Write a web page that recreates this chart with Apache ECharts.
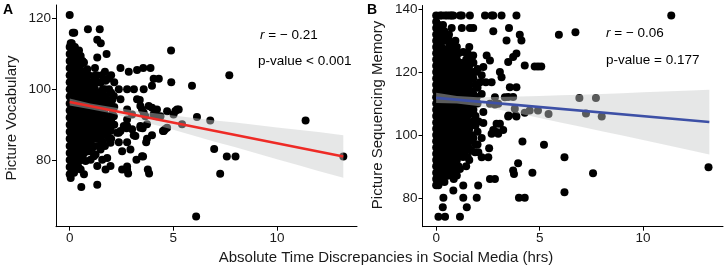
<!DOCTYPE html>
<html>
<head>
<meta charset="utf-8" />
<title>social media discrepancy scatter</title>
<script src="https://cdn.jsdelivr.net/npm/echarts@6/dist/echarts.min.js"></script>
<style>
  html, body { margin: 0; padding: 0; background: #fff; }
  #chart { width: 725px; height: 270px; }
</style>
</head>
<body>
<div id="chart"></div>
<script>
// tick labels
var xTicks = [0, 5, 10];
var yTicksA = [80, 100, 120];
var yTicksB = [80, 100, 120, 140];

// panel A: hours discrepancy vs picture vocabulary
var pointsA = [
  // sparse points
  [0,121],[0.15,116],[0.22,116],[0.88,117],[1.45,117],[1.33,114],[1.5,113],[1.78,110],[1.33,109],[4.89,111],[7.7,104],
  [0.53,109.4],[0.69,107.6],[0.85,105.7],[1.17,103.8],[1.49,101.9],[1.33,99.1],
  [2.45,106],[2.85,105],[3.25,105.5],[3.55,106],[3.9,106],[4.05,103],[4.3,103],[4.9,102],[5.9,101],
  [3.57,100],[3.97,101],[3.1,100],[2.77,100],[2.37,100],[1.73,102.4],[2.13,98.1],[2.45,97.2],[3.38,97],[3.25,97.2],
  [2.77,94.3],[3.01,92.9],[3.41,95.3],[3.57,93.4],[3.97,94.8],[4.2,92.4],[3.73,90.1],[3.41,89.1],[2.77,89.6],[2.45,88.2],
  [4.7,93.8],[5.01,92.9],[1.81,95.3],[1.49,93.4],[2.13,92.4],[1.65,90.5],[1.97,88.7],
  [5.18,94.3],[5.1,93.9],[5.26,94.3],[6.14,92.2],[6.78,91.2],[5.42,90.1],[11.38,91.2],[4.6,88.7],[4.54,88.2],[4.7,89.1],
  [4.38,92.4],[4.05,92.9],[4.21,94.3],[3.81,95.3],[3.49,94.3],[3.65,92.4],
  [1.97,90.5],[2.37,87.7],[2.61,89.6],[2.77,91.5],[3.01,88.7],[3.17,86.8],[3.41,89.6],
  [4.5,88.2],[3.97,87],[3.69,85],[3.09,87],[2.77,85],[2.37,85],[3.73,86],[3.52,89],[2.74,89],[1.97,88.2],[1.57,87.2],
  [2.53,82.5],[2.93,83],[3.22,80.1],[3.49,81.1],[3.54,81],[3.77,77.3],[3.83,76.2],[2.77,77.3],[2.53,77.3],[2.82,76.2],
  [2.77,78.2],[1.97,78.3],[1.81,80.6],[1.57,80.1],[1.33,78.3],[1.17,81.1],[1.01,80.1],[0.77,79.7],[0.53,77.3],[0.21,76.4],
  [0.05,74.9],[0.56,72.4],[1.33,73],[0.69,76],[1.73,77.3],[0.93,82.5],[1.09,83.4],[0.53,85.8],[0.21,83],[1.49,83],
  [1.25,81.6],[0.53,81.6],[0.13,79.2],[0.37,80.1],
  [1.01,87.2],[1.33,87.7],[1.49,85.8],[1.81,86.8],[1.97,84.9],[2.29,87.7],
  [6.97,83.1],[7.58,81],[8.0,81],[7.26,76.1],[13.2,81],[6.1,64],
  // dense block near zero
  [0,76],[0,78],[0,80],[0,82],[0,84],[0,86],[0,88],[0,90],[0,92],[0,94],[0,96],[0,98],[0,100],[0,102],[0,104],[0,106],[0,108],[0,110],[0,112],
  [0.1,77],[0.1,79],[0.1,81],[0.1,83],[0.1,85],[0.1,87],[0.1,89],[0.1,91],[0.1,93],[0.1,95],[0.1,97],[0.1,99],[0.1,101],[0.1,103],[0.1,105],[0.1,107],[0.1,109],[0.1,111],[0.1,113],
  [0.2,78],[0.2,80],[0.2,82],[0.2,84],[0.2,86],[0.2,88],[0.2,90],[0.2,92],[0.2,94],[0.2,96],[0.2,98],[0.2,100],[0.2,102],[0.2,104],[0.2,106],[0.2,108],[0.2,110],
  [0.3,79],[0.3,81],[0.3,84],[0.3,87],[0.3,89],[0.3,91],[0.3,93],[0.3,95],[0.3,97],[0.3,99],[0.3,101],[0.3,103],[0.3,105],[0.3,107],[0.3,111],
  [0.42,78],[0.42,82],[0.42,85],[0.42,88],[0.42,90],[0.42,93],[0.42,96],[0.42,98],[0.42,101],[0.42,104],[0.42,106],
  [0.55,80],[0.55,83],[0.55,89],[0.55,92],[0.55,95],[0.55,98],[0.55,101],[0.55,104],[0.55,107],
  [0.7,82],[0.7,85],[0.7,88],[0.7,91],[0.7,94],[0.7,97],[0.7,100],[0.7,103],
  [0.85,84],[0.85,87],[0.85,90],[0.85,93],[0.85,96],[0.85,99],[0.85,102],
  [1.0,85],[1.0,91],[1.0,94],[1.0,97],[1.0,100],
  [1.15,84],[1.15,89],[1.15,92],[1.15,95],[1.15,98],[1.15,101],
  [1.3,86],[1.3,90],[1.3,94],[1.3,97],[1.3,104],
  [1.45,88],[1.45,91],[1.45,95],[1.45,98],
  [1.6,85],[1.6,89],[1.6,93],[1.6,96],[1.6,100],
  [1.75,91],[1.75,98],[1.9,86],[1.9,95],[1.9,100],[2.05,93],[2.05,97],
  [0.05,113],[0.25,112],[0.35,109],[0.45,111],
  [0.48,80],[0.48,84],[0.48,87],[0.48,91],[0.48,94],[0.48,97],[0.48,100],[0.48,103],[0.48,108],
  [0.62,81],[0.62,86],[0.62,90],[0.62,93],[0.62,96],[0.62,99],[0.62,102],[0.62,105],[0.62,108],
  [0.78,83],[0.78,86],[0.78,89],[0.78,92],[0.78,95],[0.78,98],[0.78,101],[0.78,104],
  [0.92,86],[0.92,89],[0.92,92],[0.92,95],[0.92,98],[0.92,101],[0.92,104],
  [1.08,87],[1.08,90],[1.08,93],[1.08,96],[1.08,99],[1.08,102],
  [1.22,88],[1.22,91],[1.22,94],[1.22,97],[1.22,100],[1.22,103],[1.22,106],
  [1.38,84],[1.38,89],[1.38,92],[1.38,96],[1.38,102],
  [1.55,91],[1.55,94],[1.55,98],[1.55,104],
  [1.7,84],[1.7,88],[1.7,93],[1.7,96],[1.7,100],[1.7,105],
  [1.85,89],[1.85,92],[1.85,97],[1.85,103],
  [2.0,86],[2.0,91],[2.0,95],[2.0,99],[2.0,104],[2.15,90],[2.15,95],[2.15,102]
];
var fitXA = [0, 13.2];
var fitYA = [96.4, 81.0];
var bandXA = [0, 1, 2, 3, 4, 5, 6, 7, 8, 9, 10, 11, 12, 13.2];
var upperA = [97.4, 96.0, 95.0, 94.1, 93.3, 92.6, 91.9, 91.2, 90.6, 89.9, 89.2, 88.6, 87.9, 87.0];
var lowerA = [95.4, 94.4, 93.2, 91.7, 90.1, 88.6, 86.9, 85.2, 83.6, 81.9, 80.2, 78.6, 76.9, 75.0];

// panel B: hours discrepancy vs picture sequencing memory
var pointsB = [
  // ceiling row
  [0,138],[0.19,138],[0.27,138],[0.43,138],[0.54,138],[0.67,138],[0.75,138],[0.83,138],[1.15,138],[1.24,138],[1.63,138],
  [2.36,138],[2.68,138],[2.76,138],[3.16,138],[3.88,138],[11.36,138],
  [0.75,134],[1.24,134],[1.63,134],[1.79,134],[2.76,133],[3.52,134],[4.04,131.9],[3.4,130.1],[4.12,130.1],[5.93,131.9],
  [6.73,132.7],[0.59,130.6],
  [1.31,126.4],[1.79,125.3],[2.44,125.3],[2.6,123.7],[2.28,121.6],[3.08,120],[3.16,118.4],[3.48,123.2],[3.72,124.8],
  [3.88,125.9],[4.28,122.1],[4.76,121.8],[4.92,121.8],[5.08,121.8],[1.79,120],[2.12,116.8],[2.4,116.8],[2.68,116.8],
  [3.56,115.2],[3.88,115.2],[2.84,112],[3.32,112],[3.48,112.1],[3.72,112.1],[1.96,112.1],
  [2.84,109.7],[3.0,109.9],[2.6,109.9],[3.8,108.3],[4.28,107.1],[4.52,107.8],[4.92,107.8],[5.43,106.7],[3.48,105.9],[3.88,105.9],
  [2.28,107.3],[1.79,106.7],[6.92,111.8],[7.72,111.8],[7.24,106.8],[8.0,105.9],
  [1.55,103.8],[1.88,103.8],[2.28,103.8],[2.92,103.6],[3.08,103.6],[2.76,101.6],[2.92,100.9],[3.24,101.6],[2.68,100.4],[3.0,100.4],
  [1.8,104.3],[2.05,104.3],[3.5,106.2],[3.85,106.2],
  [6.2,92.9],[7.58,87.8],[6.2,81.8],[13.16,89.7],[4.17,97.9],[5.21,96.9],[4.65,88],[3.96,91],[3.72,88.7],[3.76,87.6],
  [4.0,80],[4.28,80],[2.6,86],[2.84,86],[2.03,83.9],[1.96,80],[1.31,83.9],[1.31,80],[1.48,77],[1.15,74],[0.35,80],
  [0.32,77],[0.11,74],[0.43,74],[0,84],[0.11,84],[0.83,82.3],[2.56,95.8],[2.52,92.9],[2.2,92.9],[1.88,94.5],[2.04,94.5],
  [1.55,96.1],[1.15,89.2],[0.83,87.6],[1.0,87.1],[0.27,86.6],
  // dense block near zero
  [0,86],[0,88],[0,90],[0,92],[0,94],[0,96],[0,98],[0,100],[0,102],[0,104],[0,106],[0,108],[0,110],[0,112],[0,114],
  [0,116],[0,118],[0,120],[0,122],[0,124],[0,126],[0,128],[0,130],[0,132],[0,134],[0,136],
  [0.13,85],[0.13,87],[0.13,89],[0.13,91],[0.13,93],[0.13,95],[0.13,97],[0.13,99],[0.13,101],[0.13,103],[0.13,105],[0.13,107],
  [0.13,109],[0.13,111],[0.13,113],[0.13,115],[0.13,117],[0.13,119],[0.13,121],[0.13,123],[0.13,125],[0.13,127],[0.13,129],
  [0.13,131],[0.13,133],[0.13,135],
  [0.26,88],[0.26,90],[0.26,92],[0.26,94],[0.26,96],[0.26,98],[0.26,100],[0.26,102],[0.26,104],[0.26,106],[0.26,108],
  [0.26,110],[0.26,112],[0.26,114],[0.26,116],[0.26,118],[0.26,120],[0.26,122],[0.26,124],[0.26,126],[0.26,128],[0.26,130],[0.26,134],
  [0.4,85],[0.4,88],[0.4,91],[0.4,94],[0.4,97],[0.4,100],[0.4,103],[0.4,106],[0.4,109],[0.4,112],[0.4,115],[0.4,118],
  [0.4,121],[0.4,124],[0.4,127],[0.4,133],
  [0.55,87],[0.55,90],[0.55,93],[0.55,96],[0.55,99],[0.55,102],[0.55,105],[0.55,108],[0.55,111],[0.55,114],[0.55,117],
  [0.55,120],[0.55,123],[0.55,126],
  [0.7,89],[0.7,93],[0.7,97],[0.7,101],[0.7,105],[0.7,109],[0.7,113],[0.7,117],[0.7,121],[0.7,125],[0.7,129],
  [0.85,86],[0.85,90],[0.85,94],[0.85,98],[0.85,102],[0.85,106],[0.85,110],[0.85,114],[0.85,118],[0.85,122],[0.85,126],
  [1.0,92],[1.0,96],[1.0,100],[1.0,104],[1.0,108],[1.0,112],[1.0,116],[1.0,120],[1.0,124],[1.0,128],
  [1.15,95],[1.15,99],[1.15,103],[1.15,107],[1.15,111],[1.15,115],[1.15,119],[1.15,123],
  [1.3,93],[1.3,97],[1.3,101],[1.3,105],[1.3,109],[1.3,113],[1.3,117],[1.3,121],
  [1.45,90],[1.45,100],[1.45,110],[1.45,114],[1.45,118],[1.45,124],
  [1.6,92],[1.6,98],[1.6,102],[1.6,112],[1.6,116],[1.6,122],[1.6,128],
  [1.8,99],[1.8,108],[1.8,113],[1.8,118],[1.8,123],
  [2.0,97],[2.0,101],[2.0,110],[2.0,115],[2.0,121],[2.2,99],[2.2,113],[2.2,119],
  [0.07,87],[0.07,91],[0.07,95],[0.07,99],[0.07,103],[0.07,107],[0.07,111],[0.07,115],[0.07,119],[0.07,123],[0.07,127],[0.07,131],[0.07,135],
  [0.2,86],[0.2,90],[0.2,94],[0.2,98],[0.2,102],[0.2,106],[0.2,110],[0.2,114],[0.2,118],[0.2,122],[0.2,126],[0.2,130],[0.2,134],
  [0.33,87],[0.33,91],[0.33,95],[0.33,99],[0.33,103],[0.33,107],[0.33,111],[0.33,115],[0.33,119],[0.33,123],[0.33,127],[0.33,131],[0.33,135],
  [0.48,90],[0.48,94],[0.48,98],[0.48,102],[0.48,106],[0.48,110],[0.48,114],[0.48,118],[0.48,122],[0.48,126],[0.48,130],
  [0.62,88],[0.62,92],[0.62,96],[0.62,100],[0.62,104],[0.62,108],[0.62,112],[0.62,116],[0.62,120],[0.62,124],[0.62,128],[0.62,132],
  [0.78,91],[0.78,95],[0.78,99],[0.78,103],[0.78,107],[0.78,111],[0.78,115],[0.78,119],[0.78,123],[0.78,127],
  [0.93,88],[0.93,94],[0.93,98],[0.93,102],[0.93,106],[0.93,110],[0.93,114],[0.93,118],[0.93,122],[0.93,130],
  [1.08,90],[1.08,94],[1.08,98],[1.08,102],[1.08,106],[1.08,110],[1.08,114],[1.08,118],[1.08,122],[1.08,126],
  [1.22,96],[1.22,100],[1.22,104],[1.22,108],[1.22,112],[1.22,116],[1.22,120],
  [1.38,95],[1.38,99],[1.38,103],[1.38,107],[1.38,111],[1.38,115],[1.38,119],[1.38,123],
  [1.52,93],[1.52,97],[1.52,106],[1.52,108],[1.52,116],[1.52,120],[1.52,126],
  [1.7,95],[1.7,100],[1.7,104],[1.7,110],[1.7,114],[1.7,118],[1.7,124],
  [1.9,97],[1.9,103],[1.9,106],[1.9,111],[1.9,116],[1.9,120]
];
var fitXB = [0, 13.2];
var fitYB = [111.8, 104.1];
var bandXB = [0, 1, 2, 3, 4, 5, 6, 7, 8, 9, 10, 11, 12, 13.2];
var upperB = [113.4, 112.4, 112.0, 112.1, 112.2, 112.4, 112.6, 112.8, 113.0, 113.3, 113.6, 113.8, 114.1, 114.4];
var lowerB = [110.2, 110.0, 109.2, 108.1, 106.8, 105.4, 104.0, 102.6, 101.2, 99.8, 98.4, 97.0, 95.5, 93.8];

var _font = '"Liberation Sans", Arial, Helvetica, sans-serif';
var bandColor = 'rgba(200,202,202,0.45)';

function bandSeries(idx, bx, up, lo) {
  return {
    type: 'custom', xAxisIndex: idx, yAxisIndex: idx, z: 3, silent: true,
    data: [0],
    renderItem: function (params, api) {
      var pts = [];
      for (var i = 0; i < bx.length; i++) pts.push(api.coord([bx[i], up[i]]));
      for (var j = bx.length - 1; j >= 0; j--) pts.push(api.coord([bx[j], lo[j]]));
      return { type: 'polygon', shape: { points: pts }, style: { fill: bandColor } };
    }
  };
}

function fitSeries(idx, fx, fy, color) {
  var d = [];
  for (var i = 0; i < fx.length; i++) d.push([fx[i], fy[i]]);
  return {
    type: 'line', xAxisIndex: idx, yAxisIndex: idx, z: 4, silent: true,
    showSymbol: false, data: d,
    lineStyle: { color: color, width: 2.6 }
  };
}

function scatterSeries(idx, pts) {
  return {
    type: 'scatter', xAxisIndex: idx, yAxisIndex: idx, z: 2, symbolSize: 8, data: pts,
    itemStyle: { color: '#000', opacity: 1 }
  };
}

function xAxisOpt(idx) {
  return {
    type: 'value', gridIndex: idx, min: -0.66, max: 13.86,
    splitLine: { show: false },
    axisLine: { onZero: false, lineStyle: { color: '#000', width: 1 } },
    axisTick: { customValues: xTicks, length: 4, lineStyle: { color: '#000' } },
    axisLabel: { customValues: xTicks, color: '#1a1a1a', fontSize: 13.5, fontFamily: _font, margin: 5 }
  };
}

function yAxisOpt(idx, min, max, ticks) {
  return {
    type: 'value', gridIndex: idx, min: min, max: max,
    splitLine: { show: false },
    axisLine: { show: true, onZero: false, lineStyle: { color: '#000', width: 1 } },
    axisTick: { show: true, customValues: ticks, length: 4, lineStyle: { color: '#000' } },
    axisLabel: { customValues: ticks, color: '#1a1a1a', fontSize: 13.5, fontFamily: _font, margin: 5 }
  };
}

var chart = echarts.init(document.getElementById('chart'), null, { renderer: 'canvas' });
chart.setOption({
  animation: false,
  backgroundColor: '#fff',
  grid: [
    { left: 56, top: 5, width: 301, height: 221.7 },
    { left: 422.5, top: 5.5, width: 300.5, height: 221.2 }
  ],
  xAxis: [xAxisOpt(0), xAxisOpt(1)],
  yAxis: [yAxisOpt(0, 61.15, 123.85, yTicksA), yAxisOpt(1, 70.8, 141.2, yTicksB)],
  series: [
    scatterSeries(0, pointsA),
    bandSeries(0, bandXA, upperA, lowerA),
    fitSeries(0, fitXA, fitYA, '#ee2b26'),
    scatterSeries(1, pointsB),
    bandSeries(1, bandXB, upperB, lowerB),
    fitSeries(1, fitXB, fitYB, '#3d50a6')
  ],
  graphic: [
    { type: 'text', left: 3, top: 3, style: { text: 'A', font: 'bold 14px ' + _font, fill: '#000' } },
    { type: 'text', left: 367, top: 3, style: { text: 'B', font: 'bold 14px ' + _font, fill: '#000' } },
    { type: 'text', x: 12, y: 118, rotation: Math.PI / 2,
      style: { text: 'Picture Vocabulary', font: '15px ' + _font, fill: '#1a1a1a', align: 'center', verticalAlign: 'middle' } },
    { type: 'text', x: 378, y: 115, rotation: Math.PI / 2,
      style: { text: 'Picture Sequencing Memory', font: '15px ' + _font, fill: '#1a1a1a', align: 'center', verticalAlign: 'middle' } },
    { type: 'text', x: 386, y: 258,
      style: { text: 'Absolute Time Discrepancies in Social Media (hrs)', font: '15px ' + _font, fill: '#1a1a1a', align: 'center', verticalAlign: 'middle' } },
    { type: 'text', x: 260, y: 35,
      style: { text: '{i|r} = − 0.21', font: '13.5px ' + _font, fill: '#000', verticalAlign: 'middle',
        rich: { i: { fontStyle: 'italic', fontSize: 13.5, fontFamily: _font } } } },
    { type: 'text', x: 258, y: 61,
      style: { text: 'p-value < 0.001', font: '13.5px ' + _font, fill: '#000', verticalAlign: 'middle' } },
    { type: 'text', x: 606, y: 33,
      style: { text: '{i|r} = − 0.06', font: '13.5px ' + _font, fill: '#000', verticalAlign: 'middle',
        rich: { i: { fontStyle: 'italic', fontSize: 13.5, fontFamily: _font } } } },
    { type: 'text', x: 606, y: 60,
      style: { text: 'p-value = 0.177', font: '13.5px ' + _font, fill: '#000', verticalAlign: 'middle' } }
  ]
});
</script>
</body>
</html>
